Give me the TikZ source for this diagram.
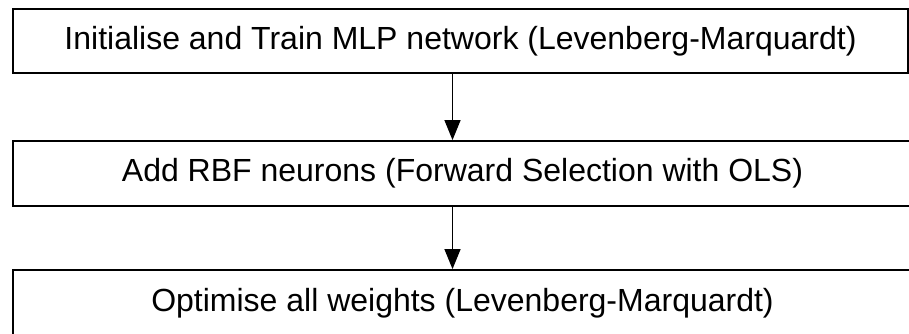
\documentclass[tikz,border=0pt]{standalone}
\usepackage{fontspec}
\setmainfont{Liberation Sans}
\usetikzlibrary{positioning,calc,arrows.meta}

\begin{document}
\begin{tikzpicture}[x=1pt,y=1pt,
		stage/.style={draw, line width=1.8pt, inner sep=0pt, font=\fontsize{32}{38}\selectfont},
		flow/.style={line width=1.3pt, -{Triangle[length=20pt,width=16pt]}}]
		\useasboundingbox (0,0) rectangle (909,334);
%		\draw[step=10,gray!30] (0,0) grid (909,334);
		\node[stage, minimum width=895, minimum height=64] (init) at (460.5,293) {Initialise and Train MLP network (Levenberg-Marquardt)};
		\node[stage, minimum width=899, minimum height=65] (addrbf) at (462.5,160.5) {Add RBF neurons (Forward Selection with OLS)};
		\node[stage, minimum width=899, minimum height=66] (optim) at (462.5,31) {Optimise all weights (Levenberg-Marquardt)};
		\draw[flow] ([xshift=-8]init.south) -- ([xshift=-8]init.south |- addrbf.north);
		\draw[flow] ([xshift=-8]init.south |- addrbf.south) -- ([xshift=-8]init.south |- optim.north);
	\end{tikzpicture}
\end{document}
